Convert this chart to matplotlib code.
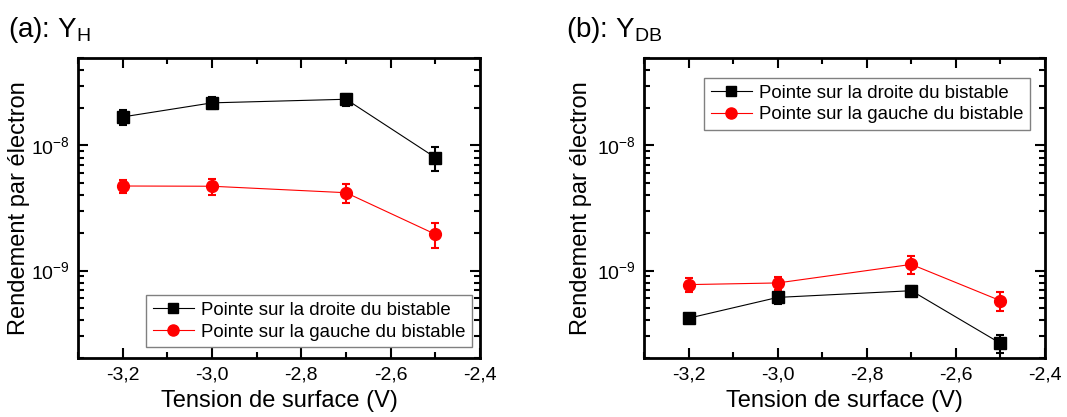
import math
import matplotlib
matplotlib.use("Agg")
import matplotlib.pyplot as plt
from matplotlib.lines import Line2D
from matplotlib.ticker import LogLocator, FixedLocator, MultipleLocator, FuncFormatter, NullFormatter

plt.rcParams['font.family'] = ['Liberation Sans', 'DejaVu Sans']
plt.rcParams['mathtext.fontset'] = 'custom'
plt.rcParams['mathtext.rm'] = 'Liberation Sans'
plt.rcParams['mathtext.it'] = 'Liberation Sans'

# Data
tension = [-3.2, -3.0, -2.7, -2.5]

# (a) Y_H
yh_droite = [1.69e-8, 2.19e-8, 2.34e-8, 8.0e-9]
yh_droite_err = [0.22e-8, 0.25e-8, 0.26e-8, 0.17e-8]
yh_gauche = [4.74e-9, 4.72e-9, 4.19e-9, 1.95e-9]
yh_gauche_err = [0.58e-9, 0.7e-9, 0.7e-9, 0.43e-9]

# (b) Y_DB
ydb_droite = [0.416e-9, 0.61e-9, 0.69e-9, 0.262e-9]
ydb_droite_err = [0.036e-9, 0.07e-9, 0.065e-9, 0.042e-9]
ydb_gauche = [0.772e-9, 0.796e-9, 1.12e-9, 0.574e-9]
ydb_gauche_err = [0.1e-9, 0.1e-9, 0.18e-9, 0.1e-9]

label_droite = "Pointe sur la droite du bistable"
label_gauche = "Pointe sur la gauche du bistable"


def fmt_x(v, pos):
    return ("%.1f" % v).replace(".", ",")


def fmt_y(v, pos):
    e = int(round(math.log10(v)))
    return r"$\mathregular{10^{%d}}$" % e


fig = plt.figure(figsize=(10.67, 4.17), dpi=100)
ax1 = fig.add_axes([0.0731, 0.1415, 0.3768, 0.7194])
ax2 = fig.add_axes([0.6036, 0.1415, 0.3758, 0.7194])

panels = [
    (ax1, yh_droite, yh_droite_err, yh_gauche, yh_gauche_err,
     r"(a): Y$_\mathregular{H}$", 8, "lower right", (0.980, 0.036), -0.119),
    (ax2, ydb_droite, ydb_droite_err, ydb_gauche, ydb_gauche_err,
     r"(b): Y$_\mathregular{DB}$", 566, "upper right", (0.963, 0.933), -0.130),
]

for ax, d, de, g, ge, title, tx, loc, anchor, ylx in panels:
    ax.errorbar(tension, d, yerr=de, color="black", marker="s", markersize=8,
                lw=0.8, elinewidth=1.5, capsize=3, capthick=1.5)
    ax.errorbar(tension, g, yerr=ge, color="red", marker="o", markersize=8.5,
                lw=0.8, elinewidth=1.5, capsize=3, capthick=1.5)
    ax.set_yscale("log")
    ax.set_ylim(2e-10, 5e-8)
    ax.set_xlim(-3.3, -2.4)
    ax.xaxis.set_major_locator(FixedLocator([-3.2, -3.0, -2.8, -2.6, -2.4]))
    ax.xaxis.set_minor_locator(MultipleLocator(0.1))
    ax.xaxis.set_major_formatter(FuncFormatter(fmt_x))
    ax.yaxis.set_major_locator(FixedLocator([1e-9, 1e-8]))
    ax.yaxis.set_minor_locator(LogLocator(base=10, subs=range(2, 10)))
    ax.yaxis.set_major_formatter(FuncFormatter(fmt_y))
    ax.yaxis.set_minor_formatter(NullFormatter())
    ax.tick_params(which="both", direction="in", top=True, right=True, width=1.5)
    ax.tick_params(which="major", length=7, labelsize=14, pad=6)
    ax.tick_params(which="minor", length=4)
    for s in ax.spines.values():
        s.set_linewidth(2)
    ax.set_xlabel("Tension de surface (V)", fontsize=17, labelpad=5)
    ax.set_ylabel("Rendement par électron", fontsize=17)
    ax.yaxis.set_label_coords(ylx, 0.5)
    handles = [
        Line2D([], [], color="black", marker="s", markersize=7, lw=0.8),
        Line2D([], [], color="red", marker="o", markersize=8, lw=0.8),
    ]
    leg = ax.legend(handles, [label_droite, label_gauche], loc=loc,
                    bbox_to_anchor=anchor, fontsize=13.4, fancybox=False,
                    framealpha=1, edgecolor="gray", handlelength=2.2,
                    borderpad=0.35, labelspacing=0.25, handletextpad=0.4,
                    borderaxespad=0)
    leg.get_frame().set_linewidth(1)
    fig.text(tx / 1067, 1 - 37 / 417, title, fontsize=20, ha="left", va="baseline")

fig.savefig("out.png", dpi=100)
